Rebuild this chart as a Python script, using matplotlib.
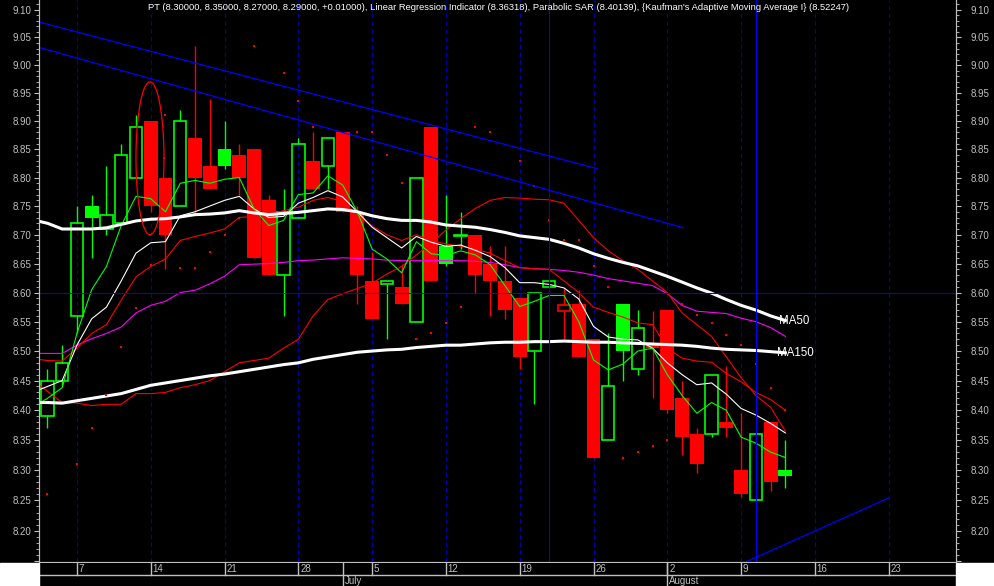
import numpy as np
import matplotlib
matplotlib.use('Agg')
import matplotlib.pyplot as plt
from matplotlib.patches import Rectangle
from matplotlib.ticker import FixedLocator, FixedFormatter, NullFormatter

plt.rcParams['font.family'] = ['Liberation Sans', 'DejaVu Sans']

# PT daily prices, 3 June - 12 August (one entry per trading day)
opens = [8.39, 8.45, 8.56, 8.75, 8.71, 8.72, 8.80, 8.90, 8.80, 8.75,
         8.87, 8.82, 8.85, 8.84, 8.85, 8.76, 8.63, 8.73, 8.83, 8.82,
         8.88, 8.74, 8.62, 8.615, 8.61, 8.55, 8.89, 8.68, 8.698, 8.70,
         8.65, 8.62, 8.59, 8.50, 8.61, 8.568, 8.58, 8.52, 8.35, 8.58,
         8.47, 8.51, 8.57, 8.42, 8.36, 8.36, 8.38, 8.30, 8.25, 8.38,
         8.30]
highs = [8.47, 8.51, 8.75, 8.77, 8.82, 8.86, 8.91, 8.90, 8.80, 8.92,
         9.035, 8.94, 8.90, 8.86, 8.85, 8.77, 8.78, 8.87, 8.88, 8.87,
         8.88, 8.75, 8.67, 8.62, 8.65, 8.80, 8.89, 8.77, 8.74, 8.70,
         8.68, 8.68, 8.59, 8.60, 8.62, 8.608, 8.605, 8.52, 8.53, 8.58,
         8.57, 8.568, 8.57, 8.45, 8.37, 8.46, 8.475, 8.395, 8.36, 8.38,
         8.35]
lows = [8.37, 8.44, 8.53, 8.66, 8.70, 8.72, 8.80, 8.74, 8.64, 8.75,
        8.735, 8.78, 8.815, 8.77, 8.66, 8.63, 8.56, 8.73, 8.78, 8.78,
        8.74, 8.58, 8.555, 8.52, 8.58, 8.55, 8.62, 8.645, 8.675, 8.60,
        8.56, 8.555, 8.47, 8.41, 8.61, 8.52, 8.49, 8.32, 8.35, 8.45,
        8.46, 8.42, 8.395, 8.325, 8.295, 8.355, 8.355, 8.255, 8.25, 8.265,
        8.27]
closes = [8.45, 8.48, 8.72, 8.73, 8.735, 8.84, 8.89, 8.75, 8.70, 8.90,
          8.80, 8.78, 8.82, 8.80, 8.66, 8.63, 8.74, 8.86, 8.78, 8.87,
          8.74, 8.63, 8.555, 8.62, 8.58, 8.80, 8.62, 8.65, 8.70, 8.63,
          8.62, 8.57, 8.49, 8.60, 8.62, 8.578, 8.49, 8.32, 8.44, 8.50,
          8.54, 8.505, 8.40, 8.355, 8.31, 8.46, 8.37, 8.26, 8.36, 8.28,
          8.29]

# indicators, first value is the day before 3 June
ma50 = [8.726,
        8.72, 8.71, 8.71, 8.71, 8.712, 8.718, 8.724, 8.727, 8.728, 8.731,
        8.735, 8.736, 8.738, 8.742, 8.738, 8.735, 8.737, 8.739, 8.742, 8.745,
        8.744, 8.74, 8.733, 8.728, 8.725, 8.725, 8.722, 8.717, 8.715, 8.713,
        8.709, 8.704, 8.698, 8.695, 8.692, 8.685, 8.677, 8.667, 8.659, 8.652,
        8.646, 8.637, 8.628, 8.618, 8.608, 8.599, 8.588, 8.578, 8.570, 8.560,
        8.552]
ma150 = [8.413,
         8.413, 8.412, 8.416, 8.42, 8.424, 8.428, 8.435, 8.442, 8.446, 8.45,
         8.454, 8.458, 8.461, 8.465, 8.469, 8.473, 8.477, 8.48, 8.486, 8.49,
         8.494, 8.498, 8.50, 8.502, 8.503, 8.506, 8.508, 8.51, 8.51, 8.512,
         8.514, 8.515, 8.515, 8.516, 8.516, 8.517, 8.516, 8.515, 8.515, 8.514,
         8.513, 8.512, 8.511, 8.51, 8.508, 8.505, 8.503, 8.502, 8.501, 8.499,
         8.497]
kama = [8.496,
        8.496, 8.496, 8.51, 8.521, 8.53, 8.541, 8.565, 8.578, 8.585, 8.60,
        8.604, 8.615, 8.628, 8.648, 8.649, 8.65, 8.652, 8.655, 8.656, 8.658,
        8.66, 8.659, 8.658, 8.656, 8.655, 8.655, 8.655, 8.655, 8.655, 8.654,
        8.652, 8.648, 8.643, 8.641, 8.64, 8.638, 8.635, 8.63, 8.624, 8.62,
        8.616, 8.612, 8.598, 8.578, 8.568, 8.566, 8.564, 8.556, 8.55, 8.54,
        8.525]
linreg = [8.43,
          8.44, 8.45, 8.51, 8.555, 8.575, 8.62, 8.668, 8.686, 8.688, 8.733,
          8.74, 8.75, 8.76, 8.767, 8.745, 8.73, 8.732, 8.755, 8.765, 8.777,
          8.766, 8.74, 8.713, 8.695, 8.677, 8.697, 8.687, 8.68, 8.682, 8.673,
          8.662, 8.643, 8.617, 8.617, 8.614, 8.608, 8.589, 8.542, 8.524, 8.52,
          8.519, 8.505, 8.48, 8.46, 8.443, 8.446, 8.427, 8.403, 8.392, 8.378,
          8.362]
fast_ma = [8.405,
           8.42, 8.438, 8.53, 8.605, 8.645, 8.716, 8.767, 8.763, 8.74, 8.79,
           8.795, 8.79, 8.797, 8.80, 8.745, 8.716, 8.725, 8.77, 8.773, 8.803,
           8.787, 8.74, 8.675, 8.658, 8.634, 8.688, 8.667, 8.664, 8.672, 8.665,
           8.648, 8.612, 8.576, 8.585, 8.595, 8.595, 8.55, 8.485, 8.468, 8.478,
           8.50, 8.505, 8.46, 8.425, 8.395, 8.413, 8.40, 8.355, 8.345, 8.33,
           8.321]
red_a = [8.487,
         8.484, 8.483, 8.505, 8.53, 8.545, 8.587, 8.627, 8.645, 8.658, 8.69,
         8.697, 8.703, 8.71, 8.73, 8.732, 8.735, 8.742, 8.748, 8.76, 8.765,
         8.758, 8.735, 8.715, 8.70, 8.69, 8.70, 8.69, 8.684, 8.68, 8.675,
         8.668, 8.655, 8.643, 8.641, 8.64, 8.62, 8.60, 8.575, 8.566, 8.558,
         8.548, 8.545, 8.505, 8.488, 8.483, 8.481, 8.462, 8.448, 8.43, 8.418,
         8.40]
red_b = [8.45,
         8.432, 8.413, 8.412, 8.408, 8.41, 8.41, 8.428, 8.428, 8.43, 8.438,
         8.443, 8.45, 8.465, 8.48, 8.484, 8.488, 8.505, 8.52, 8.56, 8.588,
         8.598, 8.607, 8.616, 8.632, 8.645, 8.665, 8.685, 8.708, 8.728, 8.746,
         8.76, 8.765, 8.764, 8.762, 8.761, 8.755, 8.725, 8.695, 8.672, 8.655,
         8.64, 8.62, 8.60, 8.565, 8.545, 8.525, 8.49, 8.455, 8.425, 8.405,
         8.365]
nan = np.nan
sar = [8.26, nan, 8.31, 8.37, 8.425, 8.507, 8.573, 8.648, 8.91, 8.643,
       8.643, 8.67, 8.70, 8.73, 9.035, nan, 8.985, 8.935, 8.89, nan,
       nan, 8.88, 8.88, 8.84, 8.79, 8.52, 8.53, 8.548, 8.575, 8.89,
       8.88, nan, 8.83, 8.785, 8.725, 8.69, 8.69, 8.645, 8.61, 8.32,
       8.33, 8.34, 8.35, 8.58, 8.562, 8.547, 8.528, 8.51, 8.478, 8.438,
       8.40]

# date axis: Mondays (trading day index of the first one) and month starts
week_labels = ['7', '14', '21', '28', '5', '12', '19', '26', '2', '9', '16', '23']
first_monday = 2
months = ['July', 'August']
month_start = [20, 42]

# trend lines drawn by the user: (day, price) pairs
trend_lines = [((-0.57, 9.078), (37.2, 8.816)),
               ((-0.57, 9.032), (43.1, 8.712)),
               ((47.3, 8.149), (57.0, 8.254))]
cursor_days = [34, 48]
cursor_price = 8.60

title = ("PT (8.30000, 8.35000, 8.27000, 8.29000, +0.01000), Linear Regression "
         "Indicator (8.36318), Parabolic SAR (8.40139), {Kaufman's Adaptive "
         "Moving Average I} (8.52247)")

W, H = 994, 586
GREEN, RED, GREY = '#00ff00', '#ff0000', '#c0c0c0'
xlim = (-0.57, 61.56)
ylim = (8.149, 9.118)

fig = plt.figure(figsize=(W / 100, H / 100), dpi=100, facecolor='black')
fig.patches.append(Rectangle((0, 0), 39 / W, 23 / H, transform=fig.transFigure,
                             color='white', zorder=0))
fig.patches.append(Rectangle((956 / W, 0), 38 / W, 23 / H, transform=fig.transFigure,
                             color='white', zorder=0))

ax = fig.add_axes([39 / W, 24 / H, 917 / W, 562 / H])
ax.set_facecolor('black')
ax.set_yscale('log')
ax.set_xlim(*xlim)
ax.set_ylim(*ylim)

major = np.round(np.arange(8.15, 9.101, 0.05), 2)
minor = np.round(np.arange(8.15, 9.125, 0.01), 2)
labels = ['' if v < 8.17 else f'{v:.2f}' for v in major]

ax2 = ax.twinx()
ax2.set_yscale('log')
ax2.set_ylim(*ylim)
for a, pad in ((ax, 1.5), (ax2, 6.5)):
    a.yaxis.set_major_locator(FixedLocator(major))
    a.yaxis.set_major_formatter(FixedFormatter(labels))
    a.yaxis.set_minor_locator(FixedLocator(minor))
    a.yaxis.set_minor_formatter(NullFormatter())
    a.tick_params(axis='y', which='both', colors=GREY, direction='out', labelsize=7)
    a.tick_params(axis='y', which='major', length=3.8, width=0.8, pad=pad)
    a.tick_params(axis='y', which='minor', length=2, width=0.6)
    a.tick_params(axis='x', bottom=False, labelbottom=False)
    for side in ('left', 'right', 'bottom'):
        a.spines[side].set_color(GREY)
    a.spines['top'].set_visible(False)

# weekly dashed lines and cursor
week_pos = [first_monday + 5 * k for k in range(len(week_labels))]
for p in week_pos:
    ax.axvline(p, color='#0000b0', lw=0.8, dashes=(4, 3), zorder=1)
for d in cursor_days:
    ax.axvline(d, color='#0000ff', lw=0.8, zorder=5)
ax.axhline(cursor_price, color='#0000ff', lw=0.8, zorder=5)

# candles
for i in range(len(closes)):
    o, h, l, c = opens[i], highs[i], lows[i], closes[i]
    up = i == 0 or c >= closes[i - 1]
    col = GREEN if up else RED
    lo_b, hi_b = min(o, c), max(o, c)
    if hi_b - lo_b < 0.002:
        hi_b = lo_b + 0.002
    if c > o:
        ax.vlines(i, l, lo_b, color=col, lw=1.0, zorder=2)
        ax.vlines(i, hi_b, h, color=col, lw=1.0, zorder=2)
        ax.bar(i, hi_b - lo_b, bottom=lo_b, width=0.84, facecolor='none',
               edgecolor=col, linewidth=1.2, zorder=2)
    else:
        ax.vlines(i, l, h, color=col, lw=1.0, zorder=2)
        ax.bar(i, hi_b - lo_b, bottom=lo_b, width=0.94, color=col,
               linewidth=0, zorder=2)

# indicator lines
xs = np.arange(len(ma50)) - 1
ax.plot(xs, kama, color='#ff00ff', lw=0.8, zorder=3)
ax.plot(xs, red_a, color=RED, lw=0.8, zorder=3)
ax.plot(xs, red_b, color=RED, lw=0.8, zorder=3)
ax.plot(xs, linreg, color='white', lw=0.8, zorder=3)
ax.plot(xs, fast_ma, color=GREEN, lw=0.8, zorder=3)
ax.plot(xs, ma150, color='white', lw=2.2, zorder=3)
ax.plot(xs, ma50, color='white', lw=2.2, zorder=3)
ax.plot(np.arange(len(sar)), sar, 's', color=RED, ms=2.0, mew=0, zorder=4)

ax.text(49.6, ma50[-1], 'MA50', color='white', fontsize=8.3, va='center', ha='left', zorder=6)
ax.text(49.4, ma150[-1], 'MA150', color='white', fontsize=8.3, va='center', ha='left', zorder=6)

for (x0, y0), (x1, y1) in trend_lines:
    ax.plot([x0, x1], [y0, y1], color='#0000ff', lw=0.9, zorder=5)

# hand-drawn ellipse around the June 14 candle
t = np.linspace(0, 2 * np.pi, 200)
e_top, e_bot = np.log(8.97), np.log(8.70)
ax.plot(7 - 0.05 + 0.95 * np.cos(t),
        np.exp((e_top + e_bot) / 2 + (e_top - e_bot) / 2 * np.sin(t)),
        color=RED, lw=0.9, zorder=5)

# date axis
dax = fig.add_axes([39 / W, 0, 917 / W, 23 / H])
dax.set_facecolor('black')
dax.set_xlim(*xlim)
dax.set_ylim(0, 23)
dax.set_xticks([])
dax.set_yticks([])
for s in dax.spines.values():
    s.set_visible(False)
dax.axhline(11.5, color=GREY, lw=1)
for p, lab in zip(week_pos, week_labels):
    dax.plot([p, p], [11.5, 23], color=GREY, lw=1)
    dax.text(p + 0.12, 17.3, lab, color=GREY, fontsize=7, ha='left', va='center')
for p, lab in zip(month_start, months):
    dax.plot([p, p], [0, 23], color=GREY, lw=1)
    dax.text(p + 0.12, 5.5, lab, color=GREY, fontsize=7, ha='left', va='center')

fig.text(148 / W, 1 - 7 / H, title, color='white', fontsize=6.75,
         ha='left', va='center')

fig.savefig('out.png', dpi=100, facecolor=fig.get_facecolor())
